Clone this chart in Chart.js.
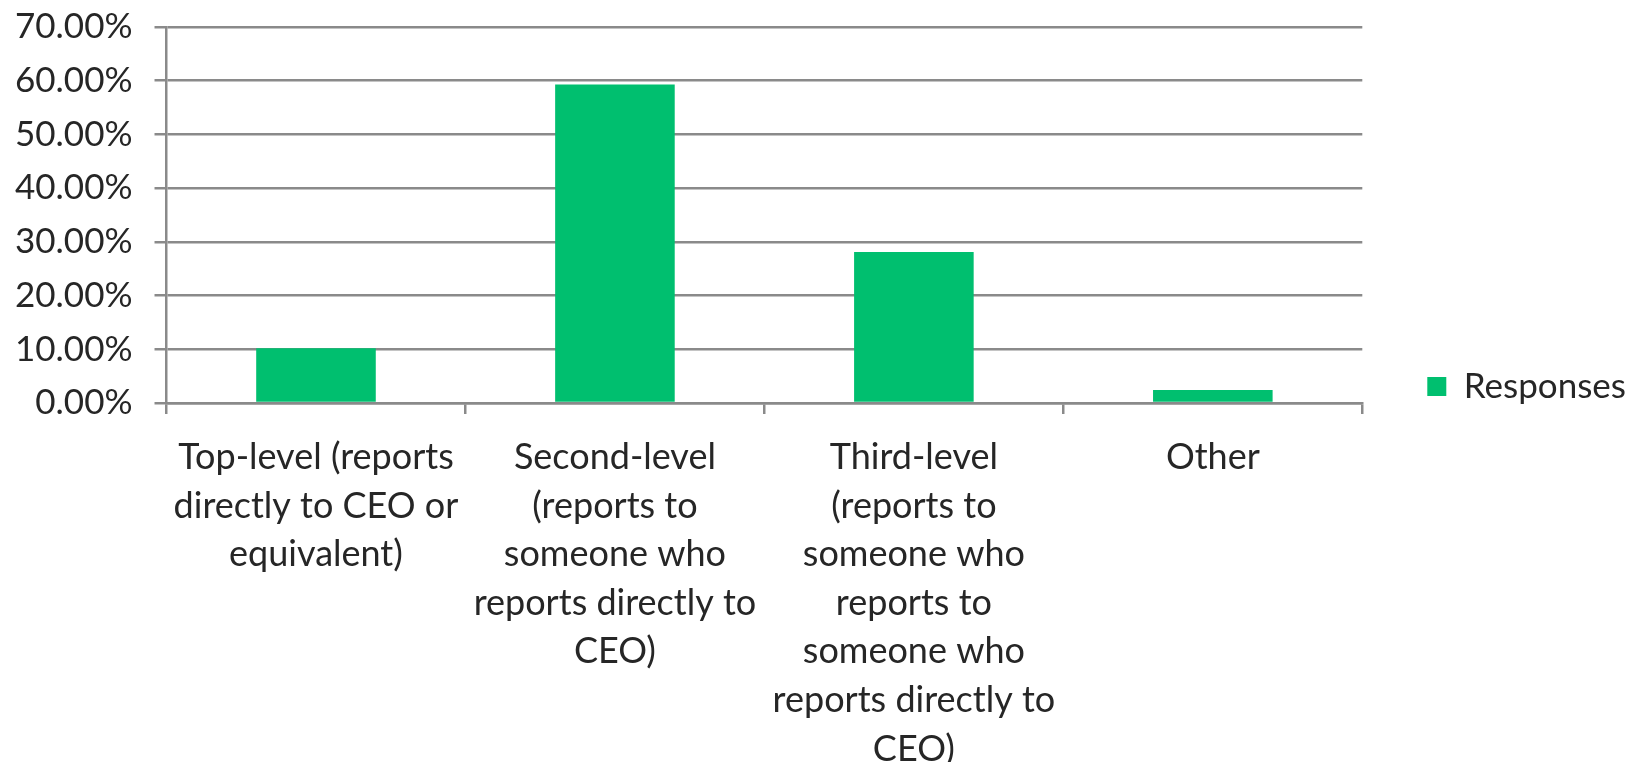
<!DOCTYPE html>
<html>
<head>
<meta charset="utf-8">
<script src="https://cdn.jsdelivr.net/npm/chart.js@4"></script>
<style>
  html, body { margin: 0; padding: 0; background: #fff; }
  #wrap { width: 1636px; height: 762px; }
</style>
</head>
<body>
<div id="wrap"><canvas id="chart"></canvas></div>
<script>
// categories (multi-line labels as in the original chart)
const categories = [
    ["Top-level (reports", "directly to CEO or", "equivalent)"],
    ["Second-level", "(reports to", "someone who", "reports directly to", "CEO)"],
    ["Third-level", "(reports to", "someone who", "reports to", "someone who", "reports directly to", "CEO)"],
    ["Other"]
];
// share of responses, percent
const responses = [10.2, 59.3, 28.1, 2.4];
const seriesName = "Responses";
const yMax = 70;
const yStep = 10;

const green = '#00BF6F';
const grey = '#8a8a8a';
const textColor = '#262626';
const font = { family: 'Lato', size: 35 };

const ctx = document.getElementById('chart').getContext('2d');
new Chart(ctx, {
    type: 'bar',
    data: {
        labels: categories,
        datasets: [{
            label: seriesName,
            data: responses,
            backgroundColor: green,
            borderWidth: 0,
            categoryPercentage: 1,
            barPercentage: 0.4
        }]
    },
    options: {
        responsive: true,
        maintainAspectRatio: false,
        animation: false,
        layout: { padding: { left: -7, top: 11, right: 0, bottom: 0 } },
        scales: {
            x: {
                grid: {
                    display: true,
                    offset: true,
                    drawOnChartArea: false,
                    drawTicks: true,
                    tickLength: 11,
                    color: grey,
                    lineWidth: 2.5
                },
                border: { display: true, color: grey, width: 2.5 },
                ticks: {
                    color: textColor,
                    font: { family: 'Lato', size: 36, lineHeight: 1.35 },
                    maxRotation: 0,
                    autoSkip: false,
                    padding: 19
                },
                afterFit: (scale) => { scale.height = 359; }
            },
            y: {
                min: 0,
                max: yMax,
                grid: {
                    color: grey,
                    lineWidth: 2.5,
                    drawTicks: true,
                    tickLength: 12
                },
                border: { display: true, color: grey, width: 2.5 },
                ticks: {
                    stepSize: yStep,
                    color: textColor,
                    font: font,
                    padding: 22,
                    callback: (v) => v.toFixed(2) + '%'
                },
                // tick padding would otherwise push the top gridline down
                afterFit: (scale) => { scale.paddingTop = 27; }
            }
        },
        plugins: {
            legend: {
                position: 'right',
                labels: {
                    boxWidth: 19,
                    boxHeight: 19,
                    padding: 65,
                    color: textColor,
                    font: font
                }
            },
            tooltip: { enabled: false }
        }
    }
});
</script>
</body>
</html>
